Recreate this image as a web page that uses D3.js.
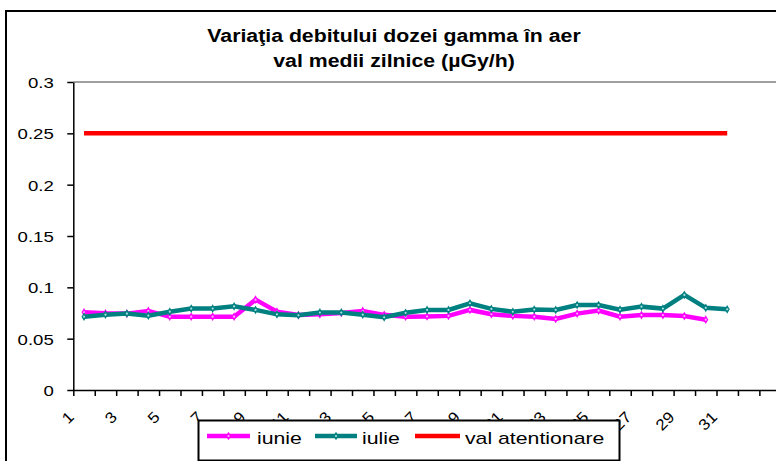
<!DOCTYPE html>
<html>
<head>
<meta charset="utf-8">
<script src="https://cdn.jsdelivr.net/npm/d3@7"></script>
<style>
  html, body { margin: 0; padding: 0; background: #fff; }
  svg { display: block; }
  text { font-family: "Liberation Sans", Arial, sans-serif; }
</style>
</head>
<body>
<svg id="chart" width="776" height="461"></svg>
<script>
// ---- data ----
const titleLines = ["Variaţia debitului dozei gamma în aer", "val medii zilnice (µGy/h)"];
const days = d3.range(1, 32);
const axisCategories = d3.range(1, 34);
const xTickLabels = [1, 3, 5, 7, 9, 11, 13, 15, 17, 19, 21, 23, 25, 27, 29, 31];
const yTicks = [0, 0.05, 0.1, 0.15, 0.2, 0.25, 0.3];
const iunie = [0.0757, 0.0747, 0.0744, 0.077, 0.0714, 0.0714, 0.0714, 0.0714, 0.088, 0.0763,
               0.073, 0.0737, 0.075, 0.077, 0.0732, 0.0714, 0.0716, 0.0722, 0.078, 0.0738,
               0.0722, 0.0714, 0.0692, 0.0744, 0.0773, 0.0714, 0.073, 0.073, 0.072, 0.0685];
const iulie = [0.0714, 0.0734, 0.0744, 0.0724, 0.0763, 0.0793, 0.0793, 0.0815, 0.078, 0.0737,
               0.0728, 0.0755, 0.0755, 0.0734, 0.0708, 0.0752, 0.078, 0.078, 0.0845, 0.079,
               0.0762, 0.0783, 0.078, 0.0828, 0.0828, 0.0783, 0.0812, 0.0793, 0.0926, 0.08, 0.0786];
const valAtentionare = days.map(() => 0.25);
const seriesNames = ["iunie", "iulie", "val atentionare"];
const seriesColors = ["#FF00FF", "#008080", "#FF0000"];

// ---- layout ----
const svg = d3.select("#chart");
const plotLeft = 73.3, bandW = 21.44, plotTop = 82, plotBottom = 390;
const x = d3.scaleBand().domain(axisCategories)
  .range([plotLeft, plotLeft + bandW * axisCategories.length]).padding(0);
const xEdge = d3.scaleLinear().domain([0, axisCategories.length])
  .range([plotLeft, plotLeft + bandW * axisCategories.length]);
const y = d3.scaleLinear().domain([0, 0.3]).range([plotBottom, plotTop]);
const cx = d => x(d) + x.bandwidth() / 2;

function stretch(sel, sx) {
  sel.each(function () {
    const t = d3.select(this);
    const tx = +t.attr("x") || 0, ty = +t.attr("y") || 0;
    t.attr("x", 0).attr("y", 0)
     .attr("transform", `translate(${tx},${ty}) scale(${sx},1)`);
  });
}

// outer frame
svg.append("rect").attr("x", 6).attr("y", 11).attr("width", 800).attr("height", 500)
  .attr("fill", "#fff").attr("stroke", "#000").attr("stroke-width", 2);

// title
svg.selectAll("text.title").data(titleLines).enter().append("text")
  .attr("class", "title")
  .attr("x", 394).attr("y", (d, i) => 41.7 + i * 25)
  .attr("text-anchor", "middle")
  .attr("font-size", 18.5).attr("font-weight", "bold").attr("fill", "#000")
  .text(d => d)
  .call(stretch, 1.15);

// plot area top border (gray)
svg.append("line").attr("x1", plotLeft).attr("x2", 800)
  .attr("y1", y(0.3)).attr("y2", y(0.3))
  .attr("stroke", "#808080").attr("stroke-width", 1.5);

// series lines
const line = d3.line().x((d, i) => cx(days[i])).y(d => y(d));
const seriesData = [iunie, iulie, valAtentionare];
const order = [2, 0, 1];
const diamond = d3.symbol().type(d3.symbolDiamond).size(22);
order.forEach(k => {
  svg.append("path").datum(seriesData[k])
    .attr("d", line).attr("fill", "none")
    .attr("stroke", seriesColors[k]).attr("stroke-width", 4.5)
    .attr("stroke-linejoin", "miter");
  if (k < 2) {
    const g = svg.append("g");
    g.selectAll("path").data(seriesData[k]).enter().append("path")
      .attr("d", diamond)
      .attr("transform", (d, i) => `translate(${cx(days[i])},${y(d)})`)
      .attr("fill", seriesColors[k]);
    g.selectAll("circle").data(seriesData[k]).enter().append("circle")
      .attr("cx", (d, i) => cx(days[i])).attr("cy", d => y(d)).attr("r", 1.1)
      .attr("fill", k === 0 ? "#ffb0ff" : "#a8e0e0");
  }
});

// y axis
const yAxis = svg.append("g").attr("transform", `translate(${plotLeft},0)`)
  .call(d3.axisLeft(y).tickValues(yTicks).tickSize(6).tickSizeOuter(0)
    .tickFormat(d => String(+d.toFixed(2))));
yAxis.select(".domain").attr("stroke", "#000").attr("stroke-width", 1.5);
yAxis.selectAll(".tick line").attr("stroke", "#000").attr("stroke-width", 1.5);
yAxis.selectAll(".tick text")
  .attr("font-size", 15.5).attr("fill", "#000").attr("font-family", null)
  .attr("x", -19.5).attr("dy", "0.36em")
  .each(function () {
    const t = d3.select(this);
    t.attr("x", 0).attr("transform", `translate(-19.5,0) scale(1.2,1)`);
  });

// x axis (ticks at category boundaries)
const xAxis = svg.append("g").attr("transform", `translate(0,${plotBottom})`)
  .call(d3.axisBottom(xEdge).tickValues(d3.range(0, axisCategories.length + 1))
    .tickSize(6).tickSizeOuter(0).tickFormat(""));
xAxis.select(".domain").attr("stroke", "#000").attr("stroke-width", 1.5);
xAxis.selectAll(".tick line").attr("stroke", "#000").attr("stroke-width", 1.5);

// x labels rotated
svg.append("g").selectAll("text").data(xTickLabels).enter().append("text")
  .attr("text-anchor", "end")
  .attr("font-size", 15.5).attr("fill", "#000")
  .attr("transform", d => `translate(${cx(d) - 9},418) rotate(-45) scale(1.1,1)`)
  .text(d => d);

// legend
const lg = svg.append("g");
lg.append("rect").attr("x", 198.5).attr("y", 420.5).attr("width", 421).attr("height", 40)
  .attr("fill", "#fff").attr("stroke", "#000").attr("stroke-width", 2);
const legItems = [
  { x1: 207, x2: 250, tx: 257 },
  { x1: 315, x2: 357, tx: 362 },
  { x1: 415, x2: 460, tx: 465 }
];
legItems.forEach((it, k) => {
  lg.append("line").attr("x1", it.x1).attr("x2", it.x2).attr("y1", 436).attr("y2", 436)
    .attr("stroke", seriesColors[k]).attr("stroke-width", 4.5);
  if (k < 2) {
    lg.append("path").attr("d", diamond)
      .attr("transform", `translate(${(it.x1 + it.x2) / 2},436)`)
      .attr("fill", seriesColors[k]);
    lg.append("circle").attr("cx", (it.x1 + it.x2) / 2).attr("cy", 436).attr("r", 1.1)
      .attr("fill", k === 0 ? "#ffb0ff" : "#a8e0e0");
  }
  lg.append("text").attr("x", it.tx).attr("y", 444)
    .attr("font-size", 17).attr("fill", "#000")
    .text(seriesNames[k])
    .call(stretch, 1.25);
});
</script>
</body>
</html>
